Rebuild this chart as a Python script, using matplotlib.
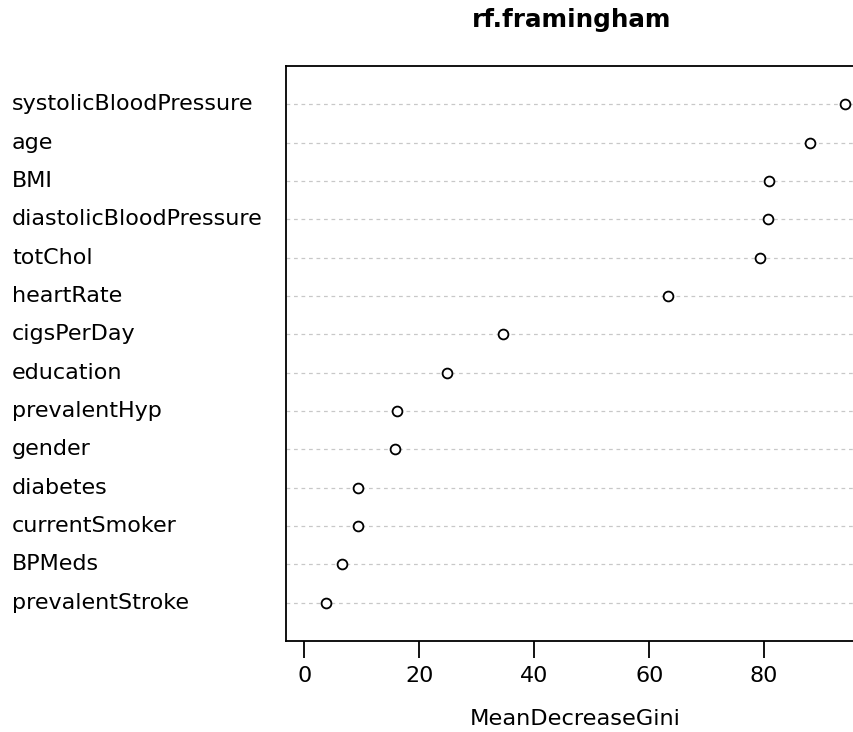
import matplotlib
matplotlib.use('Agg')
import matplotlib.pyplot as plt
import matplotlib.transforms as mtransforms

plt.rcParams['font.family'] = ['DejaVu Sans']

# variable names, top to bottom
variables = ['systolicBloodPressure', 'age', 'BMI', 'diastolicBloodPressure',
             'totChol', 'heartRate', 'cigsPerDay', 'education', 'prevalentHyp',
             'gender', 'diabetes', 'currentSmoker', 'BPMeds', 'prevalentStroke']
gini = [94.1, 88.0, 80.8, 80.7, 79.3, 63.3, 34.6, 24.9, 16.2, 15.8,
        9.4, 9.4, 6.6, 3.7]
xticks = [0, 20, 40, 60, 80]


def main():
    fig = plt.figure(figsize=(8.54, 7.32), dpi=100)
    # the right edge of the box is cut off in the original picture
    ax = fig.add_axes([286 / 854, 1 - 641 / 732, (867 - 286) / 854, (641 - 66) / 732])

    n = len(variables)
    ypos = [n - i for i in range(n)]

    for y in ypos:
        ax.axhline(y, color='#c8c8c8', linestyle=(0, (3, 3)), linewidth=0.9, zorder=1)
    ax.scatter(gini, ypos, s=50, facecolors='white', edgecolors='black',
               linewidths=1.3, zorder=3)

    ax.set_xlim(-3.2, 97.9)
    ax.set_ylim(0, n + 1)
    ax.set_yticks([])
    ax.set_xticks(xticks)
    ax.tick_params(axis='x', length=12, width=1.3, pad=6, labelsize=16,
                   colors='black')
    for s in ax.spines.values():
        s.set_linewidth(1.3)

    trans = mtransforms.blended_transform_factory(fig.transFigure, ax.transData)
    for name, y in zip(variables, ypos):
        fig.text(12 / 854, y, name, transform=trans, ha='left', va='center',
                 fontsize=16)

    fig.text(572 / 854, 1 - 20 / 732, 'rf.framingham', ha='center', va='center',
             fontsize=17.7, fontweight='bold')
    fig.text(575 / 854, 1 - 719 / 732, 'MeanDecreaseGini', ha='center', va='center',
             fontsize=16.2)

    fig.savefig('out.png', dpi=100)


if __name__ == '__main__':
    main()
